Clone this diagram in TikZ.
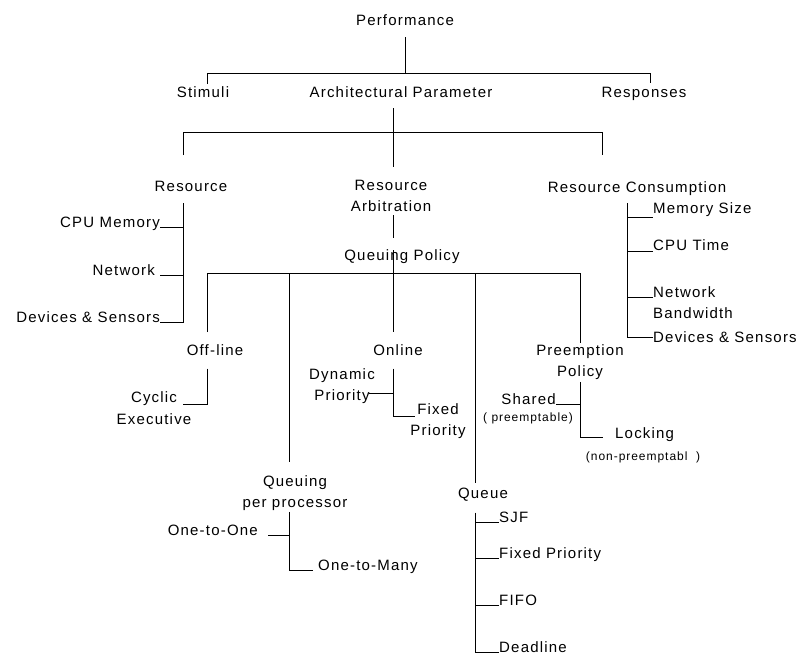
\documentclass[tikz,border=0pt]{standalone}
\usepackage{fontspec}
\setmainfont{Liberation Sans}[LetterSpace=8]
\begin{document}
\begin{tikzpicture}[x=1pt,y=-1pt,
  lbl/.style={inner sep=0pt, align=center, font=\fontsize{15}{21.5}\selectfont},
  note/.style={inner sep=0pt, font=\fontsize{12}{14}\selectfont},
  wire/.style={line width=0.9pt}]
\useasboundingbox (0,0) rectangle (802,654);

% ---- labels ----
\node[lbl, anchor=base] (perf) at (405,25) {Performance};
\node[lbl, anchor=base] (stim) at (203,97) {Stimuli};
\node[lbl, anchor=base] (arch) at (401,97) {Architectural Parameter};
\node[lbl, anchor=base] (resp) at (644,97) {Responses};

\node[lbl, anchor=base] (res)  at (191,191.5) {Resource};
\node[lbl] (arb)  at (391,196) {Resource\\Arbitration};
\node[lbl, anchor=base] (cons) at (637,192) {Resource Consumption};

\node[lbl, anchor=base east] (cpu) at (160,227) {CPU Memory};
\node[lbl, anchor=base east] (net) at (155,275) {Network};
\node[lbl, anchor=base east] (dev) at (160,322) {Devices \& Sensors};

\node[lbl, anchor=south west] (msz) at (653,217) {Memory Size};
\node[lbl, anchor=south west] (cpt) at (653,251) {CPU Time};
\node[lbl, anchor=north west, align=left] (bw) at (653,286) {Network\\Bandwidth};
\node[lbl, anchor=west] (devr) at (653,337) {Devices \& Sensors};

\node[lbl, anchor=base] (qpol) at (402,260.5) {Queuing Policy};

\node[lbl] (off) at (215,350) {Off-line};
\node[lbl] (cyc) at (154,408) {Cyclic\\Executive};
\node[lbl] (onl) at (398,350) {Online};
\node[lbl] (dyn) at (342,386) {Dynamic\\Priority};
\node[lbl] (fxp) at (438,421) {Fixed\\Priority};
\node[lbl] (qpp) at (295,493) {Queuing\\per processor};
\node[lbl, anchor=base east] (o2o) at (258,535) {One-to-One};
\node[lbl, anchor=base west] (o2m) at (318,570) {One-to-Many};
\node[lbl, anchor=base] (que) at (483,498.5) {Queue};
\node[lbl, anchor=base west] (sjf) at (499,522) {SJF};
\node[lbl, anchor=base west] (qfx) at (499,558) {Fixed Priority};
\node[lbl, anchor=base west] (fifo) at (499,605) {FIFO};
\node[lbl, anchor=base west] (dl) at (499,652) {Deadline};
\node[lbl] (pre) at (580,362) {Preemption\\Policy};
\node[lbl, anchor=base east] (shr) at (556,404) {Shared};
\node[note] (shrn) at (528,418) {( preemptable)};
\node[lbl, anchor=west] (lck) at (615,435) {Locking};
\node[note] (lckn) at (643,457) {(non-preemptabl\ \ )};

% ---- junctions of the tree ----
\coordinate (j1)  at (405,73);
\coordinate (j1l) at (207,73);
\coordinate (j1r) at (650,73);
\coordinate (j2)  at (393,132);
\coordinate (j2l) at (183,132);
\coordinate (j2r) at (602,132);
\coordinate (j3)  at (393,273);
\coordinate (j3l) at (207,273);
\coordinate (j3r) at (580,273);
\coordinate (j3a) at (289,273);
\coordinate (j3b) at (475,273);
\coordinate (cs)  at (627,203);

% ---- top level ----
\draw[wire] (perf.south) ++(0,12) -- (j1);
\draw[wire] (j1l) ++(0,11) -- (j1l) -- (j1r) -- ++(0,10);

% ---- architectural parameter ----
\draw[wire] (arch.south -| j2) ++(0,11) -- ++(0,59);
\draw[wire] (j2l) ++(0,23) -- (j2l) -- (j2r) -- ++(0,23);

% ---- resource ----
\draw[wire] (res.south -| j2l) ++(0,11.5) -- (j2l |- dev.base east) -- (dev.base east);
\draw[wire] (j2l |- cpu.base east) -- (cpu.base east);
\draw[wire] (j2l |- net.base east) -- ++(-23,0);

% ---- resource consumption ----
\draw[wire] (cs) -- (cs |- devr.west) -- (devr.west);
\draw[wire] (cs |- msz.south west) -- (msz.south west);
\draw[wire] (cs |- cpt.south west) -- (cpt.south west);
\draw[wire] (cs |- bw.north west) ++(0,11) -- ++(26,0);

% ---- resource arbitration and queuing policy ----
\draw[wire] (arb.south -| j2) ++(0,3) -- ++(0,23);
\draw[wire] (j3) ++(0,-23) -- ++(0,82);
\draw[wire] (j3l) ++(0,59) -- (j3l) -- (j3r) -- ++(0,70);
\draw[wire] (j3a) -- ++(0,189);
\draw[wire] (j3b) -- ++(0,210);

% ---- off-line ----
\draw[wire] (off.south -| j3l) ++(0,13) -- ++(0,36) -- ++(-24,0);

% ---- online ----
\draw[wire] (onl.south -| j3) ++(0,13) -- ++(0,48) -- ++(22,0);
\draw[wire] (onl.south -| j3) ++(0,38) -- ++(-24,0);

% ---- queuing per processor ----
\draw[wire] (qpp.south -| j3a) ++(0,1) -- (j3a |- o2m.base west) -- ++(24,0);
\draw[wire] (j3a |- o2o.base east) -- ++(-21,0);

% ---- queue ----
\draw[wire] (que.south -| j3b) ++(0,11) -- (j3b |- dl.base west) -- (dl.base west);
\draw[wire] (j3b |- sjf.base west) -- (sjf.base west);
\draw[wire] (j3b |- qfx.base west) -- (qfx.base west);
\draw[wire] (j3b |- fifo.base west) -- (fifo.base west);

% ---- preemption policy ----
\draw[wire] (pre.south -| j3r) ++(0,2) -- ++(0,55) -- ++(23,0);
\draw[wire] (j3r |- shr.base east) -- (shr.base east);
\end{tikzpicture}
\end{document}
